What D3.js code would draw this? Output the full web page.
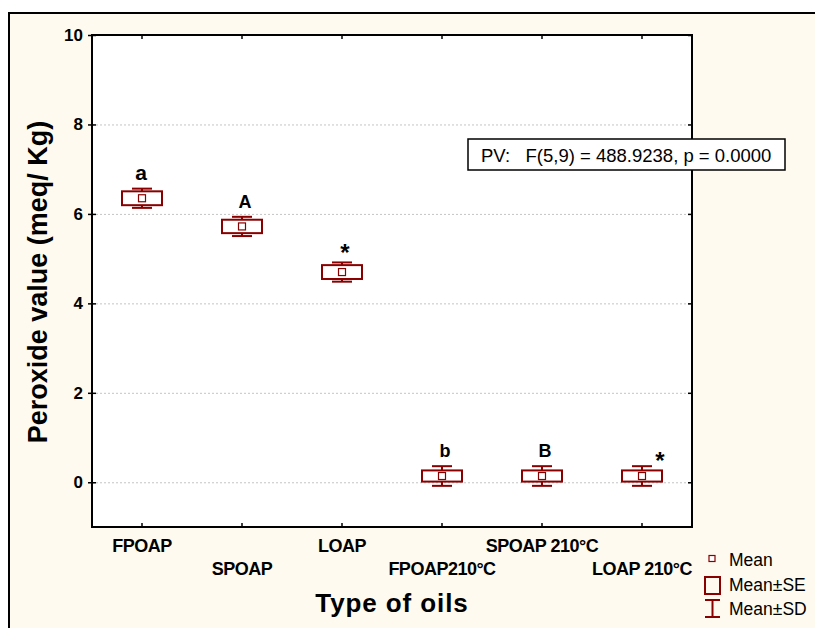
<!DOCTYPE html>
<html>
<head>
<meta charset="utf-8">
<script src="https://cdn.jsdelivr.net/npm/d3@7"></script>
<style>
  html, body { margin: 0; padding: 0; background: #ffffff; }
  svg { display: block; }
  text { font-family: "Liberation Sans", Arial, sans-serif; }
</style>
</head>
<body>
<svg id="chart" width="815" height="628"></svg>
<script>
// Peroxide value by oil type: mean, ±SE box and ±SD whiskers
const categories = ["FPOAP", "SPOAP", "LOAP", "FPOAP210°C", "SPOAP 210°C", "LOAP 210°C"];
const means = [6.35, 5.72, 4.70, 0.14, 0.14, 0.14];
const seValues = [0.155, 0.15, 0.155, 0.125, 0.125, 0.125];
const sdValues = [0.215, 0.215, 0.215, 0.22, 0.22, 0.22];
const groupLetters = ["a", "A", "*", "b", "B", "*"];
const yTicks = [0, 2, 4, 6, 8, 10];
const gridTicks = [0, 2, 4, 6, 8];
const statText = "PV:   F(5,9) = 488.9238, p = 0.0000";
const legendLabels = ["Mean", "Mean±SE", "Mean±SD"];

const RED = "#880000";
const svg = d3.select("#chart");

// outer panel
svg.append("rect").attr("x", 0).attr("y", 0).attr("width", 815).attr("height", 628).attr("fill", "#ffffff");
svg.append("rect").attr("x", 8).attr("y", 12).attr("width", 815).attr("height", 628)
  .attr("fill", "#fffaef");
svg.append("path").attr("d", "M9,628 V13 H815").attr("fill", "none").attr("stroke", "#000").attr("stroke-width", 2);

const plot = { left: 92, right: 692, top: 35, bottom: 527 };

const x = d3.scaleBand().domain(categories).range([plot.left, plot.right]);
const y = d3.scaleLinear().domain([-1, 10]).range([plot.bottom, plot.top]);
const cx = d => x(d) + x.bandwidth() / 2;

svg.append("rect").attr("x", plot.left).attr("y", plot.top)
  .attr("width", plot.right - plot.left).attr("height", plot.bottom - plot.top)
  .attr("fill", "#ffffff");

// grid
svg.append("g").selectAll("line").data(gridTicks).join("line")
  .attr("x1", plot.left).attr("x2", plot.right)
  .attr("y1", d => y(d) + 0.5).attr("y2", d => y(d) + 0.5)
  .attr("stroke", "#c4c4c4").attr("stroke-width", 1).attr("stroke-dasharray", "2,2");

// left axis
const yAxis = d3.axisLeft(y).tickValues(yTicks).tickSize(4).tickPadding(5).tickFormat(d3.format("d"));
const gy = svg.append("g").attr("transform", `translate(${plot.left},0)`).call(yAxis);
gy.select(".domain").remove();
gy.selectAll(".tick line").attr("x2", -4).attr("x1", 4).attr("stroke", "#000").attr("stroke-width", 1.5);
gy.selectAll(".tick text").attr("font-size", 17).attr("font-weight", "bold")
  .attr("font-family", "Liberation Sans, Arial, sans-serif").attr("fill", "#000");

// right axis inner ticks
const yRight = d3.axisLeft(y).tickValues(yTicks).tickSize(4).tickFormat("");
const gyr = svg.append("g").attr("transform", `translate(${plot.right},0)`).call(yRight);
gyr.select(".domain").remove();
gyr.selectAll(".tick line").attr("stroke", "#000").attr("stroke-width", 1.5);

// bottom axis: inner ticks, staggered labels
const xAxis = d3.axisTop(x).tickSize(4).tickFormat("");
const gx = svg.append("g").attr("transform", `translate(0,${plot.bottom})`).call(xAxis);
gx.select(".domain").remove();
gx.selectAll(".tick line").attr("stroke", "#000").attr("stroke-width", 1.5);

const xTop = d3.axisBottom(x).tickSize(4).tickFormat("");
const gxt = svg.append("g").attr("transform", `translate(0,${plot.top})`).call(xTop);
gxt.select(".domain").remove();
gxt.selectAll(".tick line").attr("stroke", "#000").attr("stroke-width", 1.5);

svg.append("g").selectAll("text").data(categories).join("text")
  .attr("x", d => cx(d))
  .attr("y", (d, i) => i % 2 === 0 ? 552 : 575)
  .attr("text-anchor", "middle")
  .attr("font-size", 18).attr("font-weight", "bold").attr("letter-spacing", "-0.5")
  .attr("fill", "#000")
  .text(d => d);

// plot frame
svg.append("rect").attr("x", plot.left).attr("y", plot.top)
  .attr("width", plot.right - plot.left).attr("height", plot.bottom - plot.top)
  .attr("fill", "none").attr("stroke", "#000").attr("stroke-width", 2);

// marks
const boxW = 40, capW = 20, meanS = 7;
const groups = svg.append("g").selectAll("g").data(categories).join("g");

groups.append("line")
  .attr("x1", d => cx(d)).attr("x2", d => cx(d))
  .attr("y1", (d, i) => y(means[i] + sdValues[i])).attr("y2", (d, i) => y(means[i] - sdValues[i]))
  .attr("stroke", RED).attr("stroke-width", 2);
groups.selectAll(".cap").data((d, i) => [[d, means[i] + sdValues[i]], [d, means[i] - sdValues[i]]]).join("line")
  .attr("x1", p => cx(p[0]) - capW / 2).attr("x2", p => cx(p[0]) + capW / 2)
  .attr("y1", p => y(p[1])).attr("y2", p => y(p[1]))
  .attr("stroke", RED).attr("stroke-width", 2);
groups.append("rect")
  .attr("x", d => cx(d) - boxW / 2).attr("width", boxW)
  .attr("y", (d, i) => y(means[i] + seValues[i]))
  .attr("height", (d, i) => y(means[i] - seValues[i]) - y(means[i] + seValues[i]))
  .attr("fill", "#ffffff").attr("stroke", RED).attr("stroke-width", 2);
groups.append("rect")
  .attr("x", d => cx(d) - meanS / 2).attr("width", meanS)
  .attr("y", (d, i) => y(means[i]) - meanS / 2).attr("height", meanS)
  .attr("fill", "#ffffff").attr("stroke", RED).attr("stroke-width", 1.2);

// significance letters above whiskers
groups.append("text")
  .attr("x", (d, i) => cx(d) + (i === 5 ? 18 : (i === 0 ? -1 : 3)))
  .attr("y", (d, i) => y(means[i] + sdValues[i]) - (groupLetters[i] === "*" ? (i === 5 ? -3 : 1) : 9))
  .attr("text-anchor", "middle")
  .attr("font-size", (d, i) => groupLetters[i] === "*" ? 24 : (groupLetters[i] === "a" ? 21 : 18))
  .attr("font-weight", "bold").attr("fill", "#000")
  .text((d, i) => groupLetters[i]);

// statistics annotation
svg.append("rect").attr("x", 468).attr("y", 139).attr("width", 317).attr("height", 31)
  .attr("fill", "#ffffff").attr("stroke", "#000").attr("stroke-width", 1.5);
svg.append("text").attr("x", 481).attr("y", 162).attr("font-size", 18.5).attr("fill", "#000")
  .attr("xml:space", "preserve").style("white-space", "pre").text(statText);

// axis titles
svg.append("text").attr("x", 392).attr("y", 612).attr("text-anchor", "middle")
  .attr("font-size", 26).attr("font-weight", "bold").attr("letter-spacing", "0.9")
  .attr("fill", "#000").text("Type of oils");
svg.append("text").attr("transform", "translate(47,282) rotate(-90)").attr("text-anchor", "middle")
  .attr("font-size", 27).attr("font-weight", "bold").attr("fill", "#000").text("Peroxide value (meq/ Kg)");

// legend
const lg = svg.append("g");
lg.append("rect").attr("x", 709).attr("y", 555.5).attr("width", 6).attr("height", 6)
  .attr("fill", "#fff").attr("stroke", RED).attr("stroke-width", 1.2);
lg.append("rect").attr("x", 705).attr("y", 577).attr("width", 15).attr("height", 17)
  .attr("fill", "none").attr("stroke", RED).attr("stroke-width", 2);
lg.append("path").attr("d", "M705,600 H720 M712.5,600 V617 M705,617 H720")
  .attr("fill", "none").attr("stroke", RED).attr("stroke-width", 2);
lg.selectAll("text").data(legendLabels).join("text")
  .attr("x", 729).attr("y", (d, i) => [566, 591, 615][i])
  .attr("font-size", 17.5).attr("fill", "#000").text(d => d);
</script>
</body>
</html>
